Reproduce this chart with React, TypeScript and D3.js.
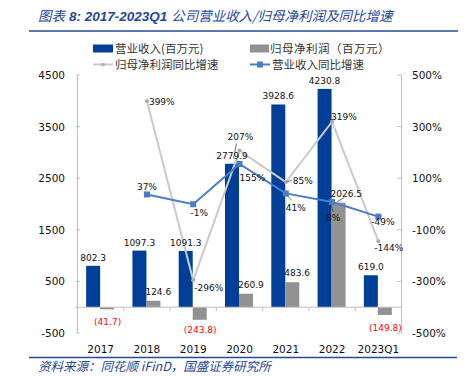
import React from "react";
import * as d3 from "d3";

const categories = ["2017", "2018", "2019", "2020", "2021", "2022", "2023Q1"];
const revenue = [802.3, 1097.3, 1091.3, 2779.9, 3928.6, 4230.8, 619.0];
const netProfit = [-41.7, 124.6, -243.8, 260.9, 483.6, 2026.5, -149.8];
const profitGrowth: (number | null)[] = [null, 399, -296, 207, 85, 319, -144];
const revenueGrowth: (number | null)[] = [null, 37, -1, 155, 41, 8, -49];
const leftTicks = [-500, 500, 1500, 2500, 3500, 4500];
const rightTicks = [-500, -300, -100, 100, 300, 500];

// label layout offsets (dx, dy relative to marker), anchor
const profitGrowthLabelPos: [number, number, string][] = [
  [0, 0, "start"], [2, 3.5, "start"], [1, 10.5, "start"], [-12, -10.5, "start"],
  [7, 1.5, "start"], [-1, -2, "start"], [-4, 10, "start"],
];
const revenueGrowthLabelPos: [number, number, string][] = [
  [0, 0, "middle"], [0, -4, "middle"], [6, 12, "middle"], [0, 17, "start"],
  [0, 18, "start"], [1, 19, "middle"], [-7, 8.5, "start"],
];

const BLUE_BAR = "#003F98";
const GRAY_BAR = "#929292";
const BLUE_LINE = "#4A7CC9";
const GRAY_LINE = "#CACACA";
const TITLE_BLUE = "#24479A";
const AXIS = "#BFBFBF";
const NUM_FONT = "DejaVu Sans, Verdana, sans-serif";
const CJK_FONT = "'Noto Sans CJK SC', sans-serif";

export default function App() {
  const W = 469, H = 376;
  const x = d3.scaleBand<string>().domain(categories).range([77.5, 401.5]).padding(0);
  const yL = d3.scaleLinear().domain([-500, 4500]).range([333, 75]);
  const yR = d3.scaleLinear().domain([-500, 500]).range([333, 75]);
  const cx = (c: string) => (x(c) as number) + x.bandwidth() / 2;
  const bw = 14;
  const y0 = yL(0);

  const fmt = (v: number) => (v < 0 ? `(${Math.abs(v).toFixed(1)})` : v.toFixed(1));

  const lineGen = d3
    .line<{ c: string; v: number | null }>()
    .defined((d) => d.v !== null)
    .x((d) => cx(d.c))
    .y((d) => yR(d.v as number));

  const pgData = categories.map((c, i) => ({ c, v: profitGrowth[i] }));
  const rgData = categories.map((c, i) => ({ c, v: revenueGrowth[i] }));

  return (
    <svg
      width={W}
      height={H}
      style={{ position: "absolute", left: 0, top: 0, background: "#fff" }}
    >
      {/* Title */}
      <text x={38} y={20.5} fill={TITLE_BLUE} fontSize={13.5} fontStyle="italic" fontFamily={CJK_FONT}>
        <tspan>图表</tspan>
        <tspan fontWeight="bold" fontFamily="'Liberation Sans', Arial, sans-serif" dx={4}>8:  2017-2023Q1</tspan>
        <tspan dx={4}>公司营业收入/归母净利润及同比增速</tspan>
      </text>
      <line x1={29} x2={458} y1={31} y2={31} stroke={TITLE_BLUE} strokeWidth={1.6} />

      {/* Legend */}
      <g fontFamily={CJK_FONT} fontSize={11.5} fill="#333">
        <rect x={93} y={44.5} width={20} height={8} fill={BLUE_BAR} />
        <text x={115} y={52.5}>营业收入(百万元)</text>
        <rect x={250} y={44.5} width={19} height={8} fill={GRAY_BAR} />
        <text x={270} y={52.5} letterSpacing={0.5}>归母净利润（百万元）</text>
        <line x1={93} x2={113} y1={64.5} y2={64.5} stroke={GRAY_LINE} strokeWidth={2} />
        <circle cx={103} cy={64.5} r={1.8} fill="#AFAFAF" />
        <text x={115} y={68.5}>归母净利润同比增速</text>
        <line x1={250} x2={270} y1={64.5} y2={64.5} stroke={BLUE_LINE} strokeWidth={2} />
        <rect x={257} y={61.5} width={6} height={6} fill={BLUE_LINE} />
        <text x={272} y={68.5}>营业收入同比增速</text>
      </g>

      {/* Axes */}
      <line x1={77.5} x2={77.5} y1={75} y2={333} stroke={AXIS} />
      {leftTicks.map((t) => (
        <g key={"l" + t}>
          <line x1={76} x2={80} y1={yL(t)} y2={yL(t)} stroke={AXIS} />
          <text x={65} y={yL(t) + 4} textAnchor="end" fontFamily={NUM_FONT} fontSize={10.5} fill="#111">
            {t}
          </text>
        </g>
      ))}
      <line x1={401.5} x2={401.5} y1={75} y2={333} stroke={AXIS} />
      {rightTicks.map((t) => (
        <g key={"r" + t}>
          <line x1={397} x2={401.5} y1={yR(t)} y2={yR(t)} stroke={AXIS} />
          <text x={412} y={yR(t) + 4} textAnchor="start" fontFamily={NUM_FONT} fontSize={10.5} fill="#111">
            {t}%
          </text>
        </g>
      ))}

      {/* Bars */}
      {categories.map((c, i) => {
        const c0 = cx(c);
        const rv = revenue[i];
        const np = netProfit[i];
        return (
          <g key={"b" + c}>
            <rect x={c0 - bw - 0.5} y={yL(rv)} width={bw} height={y0 - yL(rv)} fill={BLUE_BAR} />
            <rect
              x={c0 - 0.5}
              y={Math.min(yL(np), y0)}
              width={bw}
              height={Math.abs(yL(np) - y0)}
              fill={GRAY_BAR}
            />
          </g>
        );
      })}

      {/* Zero line with category ticks */}
      <line x1={75} x2={401.5} y1={y0} y2={y0} stroke={AXIS} />
      {categories.map((c) => (
        <line
          key={"t" + c}
          x1={(x(c) as number) + x.bandwidth()}
          x2={(x(c) as number) + x.bandwidth()}
          y1={y0}
          y2={y0 + 4}
          stroke={AXIS}
        />
      ))}

      {/* Lines */}
      <path d={lineGen(pgData) || ""} fill="none" stroke={GRAY_LINE} strokeWidth={2} />
      {pgData.map((d) =>
        d.v === null ? null : (
          <circle key={"pm" + d.c} cx={cx(d.c)} cy={yR(d.v)} r={2} fill="#ABABAB" />
        )
      )}
      <path d={lineGen(rgData) || ""} fill="none" stroke={BLUE_LINE} strokeWidth={2} />
      {rgData.map((d) =>
        d.v === null ? null : (
          <rect key={"rm" + d.c} x={cx(d.c) - 3} y={yR(d.v) - 3} width={6} height={6} fill={BLUE_LINE} />
        )
      )}

      {/* Bar labels */}
      <g fontFamily={NUM_FONT} fontSize={9}>
        {categories.map((c, i) => {
          const c0 = cx(c);
          return (
            <text key={"rl" + c} x={c0 - bw / 2 - 0.5} y={yL(revenue[i]) - 5} textAnchor="middle" fill="#111">
              {fmt(revenue[i])}
            </text>
          );
        })}
        {categories.map((c, i) => {
          const c0 = cx(c);
          const np = netProfit[i];
          if (np >= 0) {
            return (
              <text key={"nl" + c} x={c0 - 1.5} y={yL(np) - 6} textAnchor="start" fill="#111">
                {fmt(np)}
              </text>
            );
          }
          return (
            <text key={"nl" + c} x={c0 + bw / 2} y={yL(np) + (i === 2 ? 13.5 : 16)} textAnchor="middle" fill="#FF0000">
              {fmt(np)}
            </text>
          );
        })}
        {/* leader for 2026.5 */}
        <line
          x1={cx("2022") + 5}
          y1={yL(netProfit[5]) - 1}
          x2={cx("2022") + 12}
          y2={yL(netProfit[5]) - 5}
          stroke="#333"
          strokeWidth={0.7}
        />
      </g>

      {/* Growth labels */}
      <g fontFamily={NUM_FONT} fontSize={9} fill="#111">
        {pgData.map((d, i) =>
          d.v === null ? null : (
            <text
              key={"pl" + d.c}
              x={cx(d.c) + profitGrowthLabelPos[i][0]}
              y={yR(d.v) + profitGrowthLabelPos[i][1]}
              textAnchor={profitGrowthLabelPos[i][2]}
            >
              {d.v}%
            </text>
          )
        )}
        {rgData.map((d, i) =>
          d.v === null ? null : (
            <text
              key={"gl" + d.c}
              x={cx(d.c) + revenueGrowthLabelPos[i][0]}
              y={yR(d.v) + revenueGrowthLabelPos[i][1]}
              textAnchor={revenueGrowthLabelPos[i][2]}
            >
              {d.v}%
            </text>
          )
        )}
        {/* leader lines */}
        <line x1={cx("2020") - 3} y1={yR(207) - 7} x2={cx("2020") - 6} y2={yR(207) + 8} stroke="#333" strokeWidth={0.7} />
        <line x1={cx("2021") + 1} y1={yR(85)} x2={cx("2021") + 6} y2={yR(85) - 2} stroke="#333" strokeWidth={0.7} />
        <line x1={cx("2021") + 1} y1={yR(41) + 2} x2={cx("2021") + 6} y2={yR(41) + 7} stroke="#333" strokeWidth={0.7} />
        <line x1={cx("2022") - 1} y1={yR(8) + 3} x2={cx("2022") + 1} y2={yR(8) + 10} stroke="#333" strokeWidth={0.7} />
      </g>

      {/* X labels */}
      {categories.map((c) => (
        <text key={"x" + c} x={cx(c)} y={353} textAnchor="middle" fontFamily={NUM_FONT} fontSize={10.5} fill="#111">
          {c}
        </text>
      ))}

      <line x1={29} x2={457} y1={357.5} y2={357.5} stroke={TITLE_BLUE} strokeWidth={1.3} />
      <text x={38} y={370.5} fill={TITLE_BLUE} fontSize={12.5} fontStyle="italic" fontFamily={CJK_FONT}>
        资料来源：同花顺 iFinD，国盛证券研究所
      </text>
    </svg>
  );
}
